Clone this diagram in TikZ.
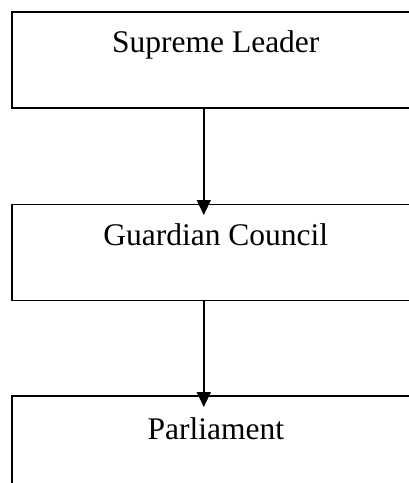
\documentclass[tikz,border=0pt]{standalone}
\usepackage{fontspec}
\setmainfont{Liberation Serif}
\usepackage{tikz}
\usetikzlibrary{arrows.meta}
\usetikzlibrary{positioning}

\begin{document}
\begin{tikzpicture}[x=1pt,y=-1pt,
        box/.style={draw, line width=1.6pt, anchor=north west, inner sep=0pt,
            minimum width=408pt, minimum height=96pt},
        title/.style={anchor=base, inner sep=0pt, font=\fontsize{31.5}{38}\selectfont},
        link/.style={line width=1.6pt, -{Triangle[width=14pt,length=15pt]}}]
        \fill[white] (0,0) rectangle (408,483);
        \useasboundingbox (0,0) rectangle (408,483);
        \node[box] (leader) at (11,11) {};
        \node[box] (council) at (11,203.5) {};
        \node[box, minimum height=140pt] (parliament) at (11,395) {};
        \node[title] (leadertext) at ([yshift=-41pt]leader.north) {Supreme Leader};
        \node[title] (counciltext) at ([yshift=-41.5pt]council.north) {Guardian Council};
        \node[title] (parliamenttext) at ([yshift=-44pt]parliament.north) {Parliament};
        \draw[link] ([xshift=-12pt]leader.south) -- ([xshift=-12pt,yshift=-11.5pt]council.north);
        \draw[link] ([xshift=-12pt]council.south) -- ([xshift=-12pt,yshift=-12pt]parliament.north);
\end{tikzpicture}
\end{document}
